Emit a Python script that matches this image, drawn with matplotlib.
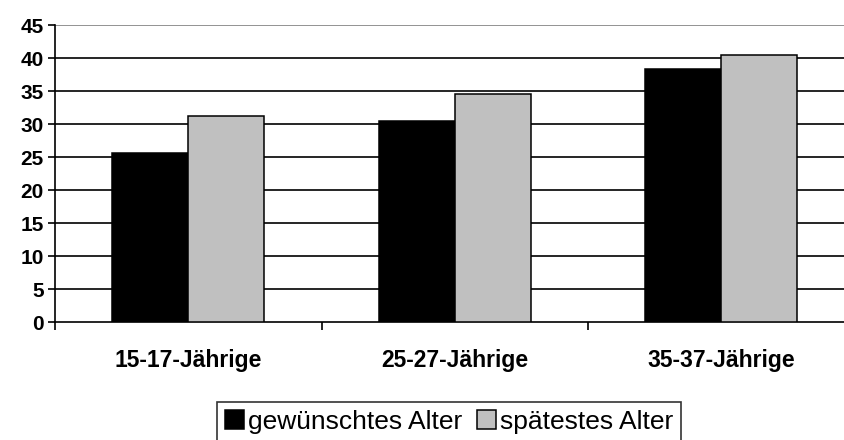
import matplotlib
matplotlib.use('Agg')
import numpy as np
from matplotlib import pyplot as plt

categories = ['15-17-Jährige', '25-27-Jährige', '35-37-Jährige']
gewuenscht = [25.6, 30.5, 38.3]
spaetestens = [31.3, 34.6, 40.4]
series_labels = ['gewünschtes Alter', 'spätestes Alter']
yticks = [0, 5, 10, 15, 20, 25, 30, 35, 40, 45]

plt.rcParams['font.family'] = ['Liberation Sans', 'DejaVu Sans']

fig = plt.figure(figsize=(8.44, 4.40), dpi=100)
ax = fig.add_axes([55 / 844, (440 - 322.3) / 440, 799.5 / 844, 297.3 / 440])

x = np.arange(len(categories))
w = 0.285
ax.bar(x - w / 2, gewuenscht, w, color='black', edgecolor='black', linewidth=1.1,
       label=series_labels[0], zorder=3)
ax.bar(x + w / 2, spaetestens, w, color='#c0c0c0', edgecolor='black', linewidth=1.1,
       label=series_labels[1], zorder=3)

ax.set_xlim(-0.5, 2.5)
ax.set_ylim(0, 45)
ax.set_yticks(yticks)
for t in yticks[1:-1]:
    ax.axhline(t, color='black', linewidth=1.2, zorder=1)
ax.axhline(45, color='#808080', linewidth=1.2, zorder=1)

for s in ['top', 'right']:
    ax.spines[s].set_visible(False)
ax.spines['left'].set_linewidth(1.2)
ax.spines['bottom'].set_linewidth(1.2)

ax.set_xticks(x)
ax.set_xticklabels(categories, fontsize=16.5, fontweight='bold')
ax.set_xticks([-0.5, 0.5, 1.5, 2.5], minor=True)
ax.tick_params(axis='x', which='major', length=0, pad=19)
ax.tick_params(axis='x', which='minor', length=6, width=1.2, direction='out')
ax.tick_params(axis='y', length=5, width=1.2, labelsize=15, pad=3)
for lbl in ax.get_yticklabels():
    lbl.set_fontweight('bold')

leg = fig.legend(loc='upper left', bbox_to_anchor=(217 / 844, 1 - 402 / 440),
                 ncol=2, fontsize=19, frameon=True, fancybox=False,
                 handlelength=0.72, handleheight=0.72, handletextpad=0.15,
                 columnspacing=0.55, borderpad=0.3, borderaxespad=0)
leg.get_frame().set_edgecolor('black')
leg.get_frame().set_linewidth(1.2)

fig.savefig('out.png', dpi=100)
